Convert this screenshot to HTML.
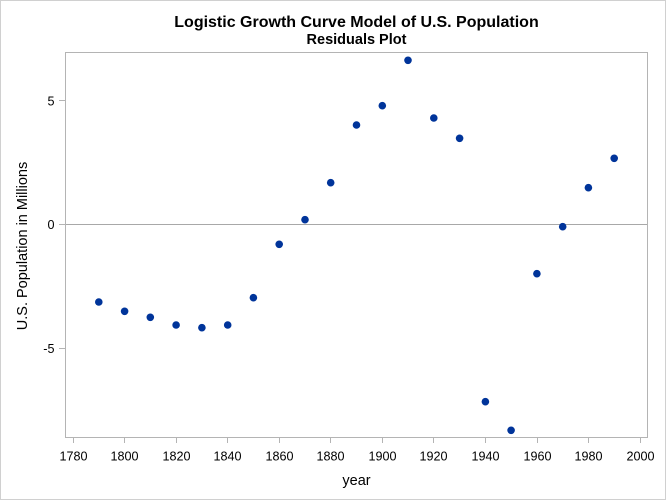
<!DOCTYPE html>
<html><head><meta charset="utf-8"><style>
html,body{margin:0;padding:0;background:#fff;}
svg{display:block;font-family:"Liberation Sans",Arial,sans-serif;}
</style></head><body>
<svg width="666" height="500" viewBox="0 0 666 500" xmlns="http://www.w3.org/2000/svg">
<rect x="0.5" y="0.5" width="665" height="499" fill="#fff" stroke="#d0d0d0" stroke-width="1"/>
<text x="356.5" y="27" text-anchor="middle" font-size="16" font-weight="bold" fill="#000">Logistic Growth Curve Model of U.S. Population</text>
<text x="356.5" y="44" text-anchor="middle" font-size="14.5" font-weight="bold" fill="#000">Residuals Plot</text>
<rect x="65.5" y="52.5" width="582" height="385" fill="#fff" stroke="#b4b4b4" stroke-width="1"/>
<line x1="66" y1="224.5" x2="647" y2="224.5" stroke="#a8a8a8" stroke-width="1"/>
<g stroke="#b4b4b4" stroke-width="1">
<line x1="59" y1="100.5" x2="65" y2="100.5"/>
<line x1="59" y1="224.5" x2="65" y2="224.5"/>
<line x1="59" y1="348.5" x2="65" y2="348.5"/>
<line x1="73.5" y1="438" x2="73.5" y2="443"/>
<line x1="124.5" y1="438" x2="124.5" y2="443"/>
<line x1="176.5" y1="438" x2="176.5" y2="443"/>
<line x1="227.5" y1="438" x2="227.5" y2="443"/>
<line x1="279.5" y1="438" x2="279.5" y2="443"/>
<line x1="330.5" y1="438" x2="330.5" y2="443"/>
<line x1="382.5" y1="438" x2="382.5" y2="443"/>
<line x1="433.5" y1="438" x2="433.5" y2="443"/>
<line x1="485.5" y1="438" x2="485.5" y2="443"/>
<line x1="537.5" y1="438" x2="537.5" y2="443"/>
<line x1="588.5" y1="438" x2="588.5" y2="443"/>
<line x1="640.5" y1="438" x2="640.5" y2="443"/>
</g>
<g font-size="12.6" fill="#000" text-anchor="end">
<text x="54.5" y="105.5">5</text>
<text x="54.5" y="229">0</text>
<text x="54.5" y="353">-5</text>
</g>
<g font-size="12.6" fill="#000" text-anchor="middle">
<text x="73.5" y="460.5">1780</text>
<text x="124.5" y="460.5">1800</text>
<text x="176.5" y="460.5">1820</text>
<text x="227.5" y="460.5">1840</text>
<text x="279.5" y="460.5">1860</text>
<text x="330.5" y="460.5">1880</text>
<text x="382.5" y="460.5">1900</text>
<text x="433.5" y="460.5">1920</text>
<text x="485.5" y="460.5">1940</text>
<text x="537.5" y="460.5">1960</text>
<text x="588.5" y="460.5">1980</text>
<text x="640.5" y="460.5">2000</text>
</g>
<text x="356.5" y="485" text-anchor="middle" font-size="14.5" fill="#000">year</text>
<text transform="translate(27,246) rotate(-90)" text-anchor="middle" font-size="14.5" fill="#000">U.S. Population in Millions</text>
<g fill="#00349a">
<circle cx="98.8" cy="302" r="3.8"/>
<circle cx="124.6" cy="311.3" r="3.8"/>
<circle cx="150.3" cy="317.3" r="3.8"/>
<circle cx="176.1" cy="325" r="3.8"/>
<circle cx="201.9" cy="327.7" r="3.8"/>
<circle cx="227.7" cy="325" r="3.8"/>
<circle cx="253.4" cy="297.7" r="3.8"/>
<circle cx="279.2" cy="244.3" r="3.8"/>
<circle cx="305" cy="219.7" r="3.8"/>
<circle cx="330.7" cy="182.7" r="3.8"/>
<circle cx="356.5" cy="125" r="3.8"/>
<circle cx="382.3" cy="105.7" r="3.8"/>
<circle cx="408" cy="60.3" r="3.8"/>
<circle cx="433.8" cy="118" r="3.8"/>
<circle cx="459.6" cy="138.3" r="3.8"/>
<circle cx="485.4" cy="401.7" r="3.8"/>
<circle cx="511.1" cy="430.3" r="3.8"/>
<circle cx="536.9" cy="273.7" r="3.8"/>
<circle cx="562.7" cy="226.7" r="3.8"/>
<circle cx="588.4" cy="187.7" r="3.8"/>
<circle cx="614.2" cy="158.3" r="3.8"/>
</g>
</svg>
</body></html>
